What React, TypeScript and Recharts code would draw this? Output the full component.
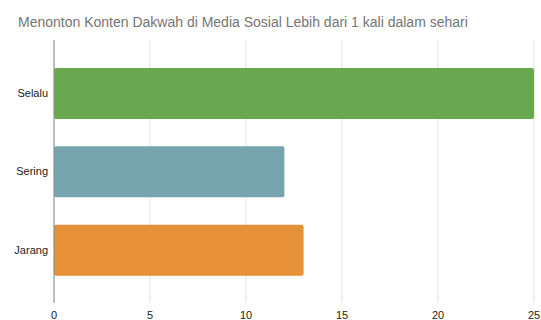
import React from 'react';
import { BarChart, Bar, XAxis, YAxis, CartesianGrid, Cell } from 'recharts';

const categories = ['Selalu', 'Sering', 'Jarang'];
const counts = [25, 12, 13];
const barColors = ['#6aa84f', '#76a5af', '#e69138'];
const xTicks = [0, 5, 10, 15, 20, 25];

const TITLE = 'Menonton Konten Dakwah di Media Sosial Lebih dari 1 kali dalam sehari';
const FONT = '"Liberation Sans", Arial, sans-serif';

const chartData = categories.map((name, i) => ({ name, count: counts[i] }));

export default function App() {
  return (
    <div style={{ position: 'absolute', left: 0, top: 0, width: 541, height: 320, background: '#fff', fontFamily: FONT }}>
      <svg width={541} height={40} style={{ position: 'absolute', left: 0, top: 0 }}>
        <text x={18} y={27} fontSize={14} fill="#757575" fontFamily={FONT}>{TITLE}</text>
      </svg>
      <div style={{ position: 'absolute', left: 0, top: 0 }}>
        <BarChart
          width={541}
          height={320}
          data={chartData}
          layout="vertical"
          margin={{ top: 40, right: 7, left: 0, bottom: 0 }}
        >
          <CartesianGrid horizontal={false} stroke="#e0e0e0" />
          <XAxis
            type="number"
            domain={[0, 25]}
            ticks={xTicks}
            axisLine={false}
            tickLine={false}
            height={17}
            tick={{ fill: '#222', fontSize: 11, fontFamily: FONT }}
          />
          <YAxis
            type="category"
            dataKey="name"
            width={54}
            tickLine={false}
            tickMargin={0}
            padding={{ top: 14, bottom: 14 }}
            axisLine={{ stroke: '#8c8c8c' }}
            tick={{ fill: '#222', fontSize: 11, fontFamily: FONT }}
          />
          <Bar dataKey="count" barSize={51} radius={2} isAnimationActive={false}>
            {chartData.map((entry, index) => (
              <Cell key={`cell-${index}`} fill={barColors[index]} />
            ))}
          </Bar>
        </BarChart>
      </div>
    </div>
  );
}
